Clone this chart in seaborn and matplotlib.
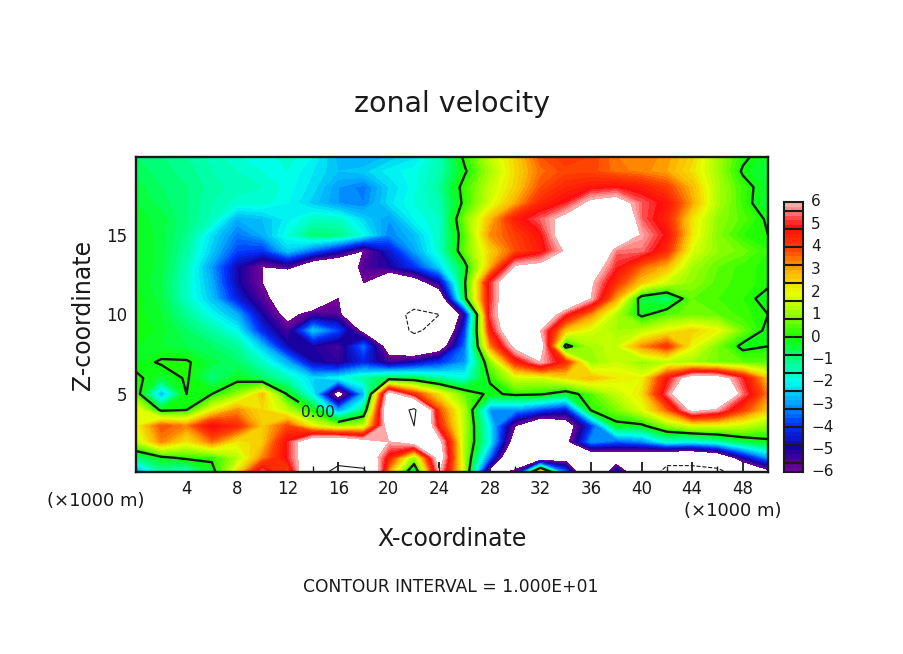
import numpy as np
import matplotlib
matplotlib.use('Agg')
import matplotlib.pyplot as plt
from matplotlib.colors import ListedColormap
import seaborn as sns

# grid of the section, km
x_km = [0, 2, 4, 6, 8, 10, 12, 14, 16, 18, 20, 22, 24, 26, 28, 30, 32, 34, 36, 38, 40, 42, 44, 46, 48, 50]
z_km = [0, 1, 2, 3, 4, 5, 6, 7, 8, 9, 10, 11, 12, 13, 14, 15, 16, 17, 18, 19, 20]

# zonal velocity, one list per height
u_z00 = [-3.5, -1.5, -2, -0.5, 2.5, 5.8, 3.5, 9, 11, 11, 2.8, -1.5, 6, 1.4, -7, -5, 4.5, -3, -9, -4, -8, -11, -11, -11, -9, -7]
u_z01 = [-1, -0.2, 0.2, 0.2, 1.3, 3.3, 5, 7.5, 9, 8, 4.5, 1, 7, 1.2, -3.5, -9, -8, -7, -8, -7.5, -8, -9, -9, -8, -5, -3]
u_z02 = [1.4, 3.3, 2.2, 3.5, 2.2, 2.6, 5, 7.5, 8, 6.8, 6, 7, 6.5, 1.2, -2, -7, -8, -6.5, -3, -3.6, -3.2, -1.7, -2, -1.5, -0.6, -0.2]
u_z03 = [2, 3.8, 3.3, 5, 4.3, 2.6, 3.9, 2, 1, 1.5, 7, 10, 4.4, 1.3, -2.2, -6, -8, -7, -4, -0.3, -0.2, 1, 1.8, 1.8, 1.5, 1]
u_z04 = [2.2, -0.2, 0, 2, 3.2, 2.4, 1.4, -0.1, -3, -1, 8, 10.5, 3.8, 1.3, -3, -3, -3.8, -4.5, 0.1, 0.8, 1.8, 3.6, 6.5, 5.8, 4, 2.6]
u_z05 = [0.5, -2.8, 0, 0, 1, 2.7, -0.1, -2.1, -7, -2.8, 7, 4.2, 2.2, 0.6, -0.2, 0.2, 0.1, -0.5, 0.5, 1.5, 2.3, 5.4, 9, 9, 5.5, 3.3]
u_z06 = [0.2, -0.5, 0.1, -1, -0.3, -0.8, -1.5, -2.4, -2, -1.3, -0.5, -0.6, -1.3, -1.8, 0.1, 1.6, 1.6, 2.3, 2.8, 2.2, 2, 4.7, 7, 7, 5, 2.6]
u_z07 = [-0.3, 0.1, 0.1, -0.5, -0.8, -1.6, -2.8, -4.8, -5.2, -4.2, -5.4, -4.8, -4, -3, 0.8, 4.3, 6, 4.3, 1, 1.6, 1, 1.4, 1.2, 0.8, 0.6, 0.5]
u_z08 = [-0.2, -0.4, -0.6, -0.8, -1.2, -2.6, -4.8, -5, -5.5, -3.4, -6.8, -8, -7, -3.4, 3.2, 6.5, 7, -0.4, 1.2, 1.6, 3.2, 4.2, 2, 0.8, -0.2, 0]
u_z09 = [0, -0.3, -0.8, -1.3, -2, -4.2, -5.5, -2.5, -3.8, -6.5, -8, -10.5, -9, -4, 4.5, 8, 6, 2.6, 1.8, 1.2, 1.4, 2, 2.5, 2, 0.7, -0.2]
u_z10 = [-0.1, -0.4, -1.2, -2, -2.8, -4.9, -6.5, -5.4, -5.6, -9, -9, -10.5, -10, -5, 5.2, 8, 8, 5, 3.2, 1.3, -0.2, 0.5, 0.7, 0.6, 0.3, 0]
u_z11 = [-0.1, -0.5, -1.6, -2.6, -4.3, -5.6, -7, -8, -6, -8, -9, -9, -7.5, -0.3, 5, 8, 9, 8.5, 6, 3, -0.5, -1, 0.6, 0.4, 0.2, -0.2]
u_z12 = [-0.2, -0.6, -1.6, -2.8, -4.8, -6, -9, -10, -9, -6, -8, -7, -5, -0.1, 5, 8, 9, 9, 6.2, 4.2, 2.6, 1.6, 1, 0.5, 0.3, 0.1]
u_z13 = [-0.2, -0.5, -1.5, -3, -4.8, -6, -5.5, -7.5, -8, -5.5, -5, -4, -2.4, -0.3, 2.8, 6.2, 6.5, 6.2, 7, 5, 3.6, 2.8, 1.2, 0.6, 0.3, 0.1]
u_z14 = [-0.2, -0.5, -1.3, -2.5, -3.8, -4, -2.5, -3.5, -4.6, -6, -4.5, -2.9, -1.6, 0.6, 2.5, 3.8, 4.6, 6.2, 9, 5.5, 5.5, 4.3, 1.8, 1, 0.7, 0.2]
u_z15 = [-0.2, -0.5, -1.1, -2.3, -3.3, -2.8, -1.8, -0.9, -1, -1.9, -3.2, -2.6, -1.6, 0.5, 3.2, 4, 4.8, 7, 8.5, 8, 5.9, 4.8, 2.2, 0.9, 0.2, 0]
u_z16 = [-0.3, -0.5, -1, -1.5, -2.8, -2.6, -2.1, -1.6, -1.6, -2.4, -3, -2, -1.6, 0.8, 2.8, 4.6, 5.4, 6.5, 8, 8, 5.4, 4.4, 2.3, 1, 0.5, -0.1]
u_z17 = [-0.4, -0.7, -1, -1.4, -1.7, -1.7, -2, -2.5, -3, -3.2, -2.3, -1.8, -1.4, 0.2, 1.7, 3, 4.4, 5, 6.4, 6.8, 5.4, 4.7, 3, 1.3, 0.3, -0.5]
u_z18 = [-0.5, -0.8, -1, -1.3, -1.5, -1.6, -1.9, -2.3, -3, -3.3, -2.4, -1.9, -1.2, 0.3, 1.5, 2.5, 3.8, 4.4, 4.7, 4.9, 4.6, 4, 2.8, 1.3, 0.3, -0.4]
u_z19 = [-0.7, -0.9, -1.1, -1.4, -1.6, -1.8, -1.8, -2.2, -2.6, -2.5, -2.1, -1.9, -1.4, -0.1, 1.2, 2.4, 3.5, 3.9, 3.9, 3.5, 3.3, 3, 2.3, 1.2, -0.1, -0.5]
u_z20 = [-0.8, -1, -1.2, -1.5, -1.8, -1.9, -1.7, -2, -2.7, -2.9, -2.6, -2.3, -1.5, 0.2, 1.5, 2.5, 3.8, 4.2, 4, 3.4, 3.4, 3.1, 2.5, 1.2, 0.2, -0.4]

x_ticks = [4, 8, 12, 16, 20, 24, 28, 32, 36, 40, 44, 48]
z_ticks = [5, 10, 15]
bar_labels = [-6, -5, -4, -3, -2, -1, 0, 1, 2, 3, 4, 5, 6]
bar_edges = [-5.6, -4.8, -4.0, -3.2, -2.4, -1.6, -0.8, 0, 0.8, 1.6, 2.4, 3.2, 4.0, 4.8, 5.6]

# colours at -6, -5, ... 6
anchor_colors = ['#700098', '#1800a0', '#0030ff', '#00a0ff', '#00fff0', '#00ff80', '#10ff00',
                 '#90ff00', '#e8ff00', '#ffb000', '#ff4000', '#ff0c0c', '#ffa8a8']

sns.set_theme(style='white')
plt.rcParams['font.family'] = ['DejaVu Sans']

levels = np.arange(-30, 31) / 5.0
palette = sns.blend_palette(anchor_colors, n_colors=len(levels) - 1)
cmap = ListedColormap(palette)

u = np.array([u_z00, u_z01, u_z02, u_z03, u_z04, u_z05, u_z06, u_z07, u_z08, u_z09, u_z10,
              u_z11, u_z12, u_z13, u_z14, u_z15, u_z16, u_z17, u_z18, u_z19, u_z20])

W, H = 904, 654
fig = plt.figure(figsize=(W / 100, H / 100), dpi=100, facecolor='white')


def px_axes(x0, y0, x1, y1):
    # pixel box, y measured from the top of the image
    return fig.add_axes([x0 / W, 1 - y1 / H, (x1 - x0) / W, (y1 - y0) / H])


ax = px_axes(136, 157, 768, 472)
ax.contourf(x_km, z_km, u, levels=levels, cmap=cmap, vmin=-6, vmax=6, antialiased=False)
zero = ax.contour(x_km, z_km, u, levels=[0], colors='k', linewidths=1.7)
ax.contour(x_km, z_km, u, levels=[-10, 10], colors='k', linewidths=0.8, linestyles=['--', '-'])
ax.clabel(zero, fmt='%.2f', inline=True, fontsize=11, colors='k', manual=[(14.5, 4.0)])
for t in ax.texts:
    t.set_rotation(0)

ax.set_xlim(0, 50)
ax.set_ylim(0.1, 19.9)
ax.set_xticks(x_ticks)
ax.set_xticks(np.arange(2, 50, 4), minor=True)
ax.set_yticks(z_ticks)
ax.set_yticks([z for z in range(1, 20) if z % 5], minor=True)
ax.tick_params(which='major', direction='in', top=True, right=True, length=7, width=1.3,
               color='k', labelsize=12, labelcolor='k', pad=6, bottom=True, left=True)
ax.tick_params(which='minor', direction='in', top=True, right=True, length=4, width=1.0,
               color='k', bottom=True, left=True)
for s in ax.spines.values():
    s.set_visible(True)
    s.set_color('k')
    s.set_linewidth(1.7)

# colour bar
cax = px_axes(784, 202, 803, 472)
bar_values = ((levels[:-1] + levels[1:]) / 2).reshape(-1, 1)
sns.heatmap(bar_values, ax=cax, cmap=cmap, vmin=-6, vmax=6, cbar=False, xticklabels=False, yticklabels=False)
cax.invert_yaxis()
n = len(levels) - 1
for e in bar_edges:
    cax.axhline((e + 6) / 12 * n, color='k', lw=1.5)
for s in cax.spines.values():
    s.set_visible(True)
    s.set_color('k')
    s.set_linewidth(1.5)
for v in bar_labels:
    y = 202 + (6 - v) / 12 * 270
    fig.text(811 / W, 1 - y / H, str(v).replace('-', '\u2212'), fontsize=11, color='k', ha='left', va='center')

fig.text(452 / W, 1 - 104 / H, 'zonal velocity', fontsize=20.5, color='k', ha='center', va='center')
fig.text(452 / W, 1 - 539 / H, 'X-coordinate', fontsize=17, color='k', ha='center', va='center')
fig.text(83 / W, 1 - 315 / H, 'Z-coordinate', fontsize=17, color='k', ha='center', va='center', rotation=90)
fig.text(96 / W, 1 - 501 / H, '(\u00d71000 m)', fontsize=13, color='k', ha='center', va='center')
fig.text(733 / W, 1 - 511 / H, '(\u00d71000 m)', fontsize=13, color='k', ha='center', va='center')
fig.text(451 / W, 1 - 587 / H, 'CONTOUR INTERVAL = 1.000E+01', fontsize=12.3, color='k', ha='center', va='center')

fig.savefig('out.png', dpi=100)
